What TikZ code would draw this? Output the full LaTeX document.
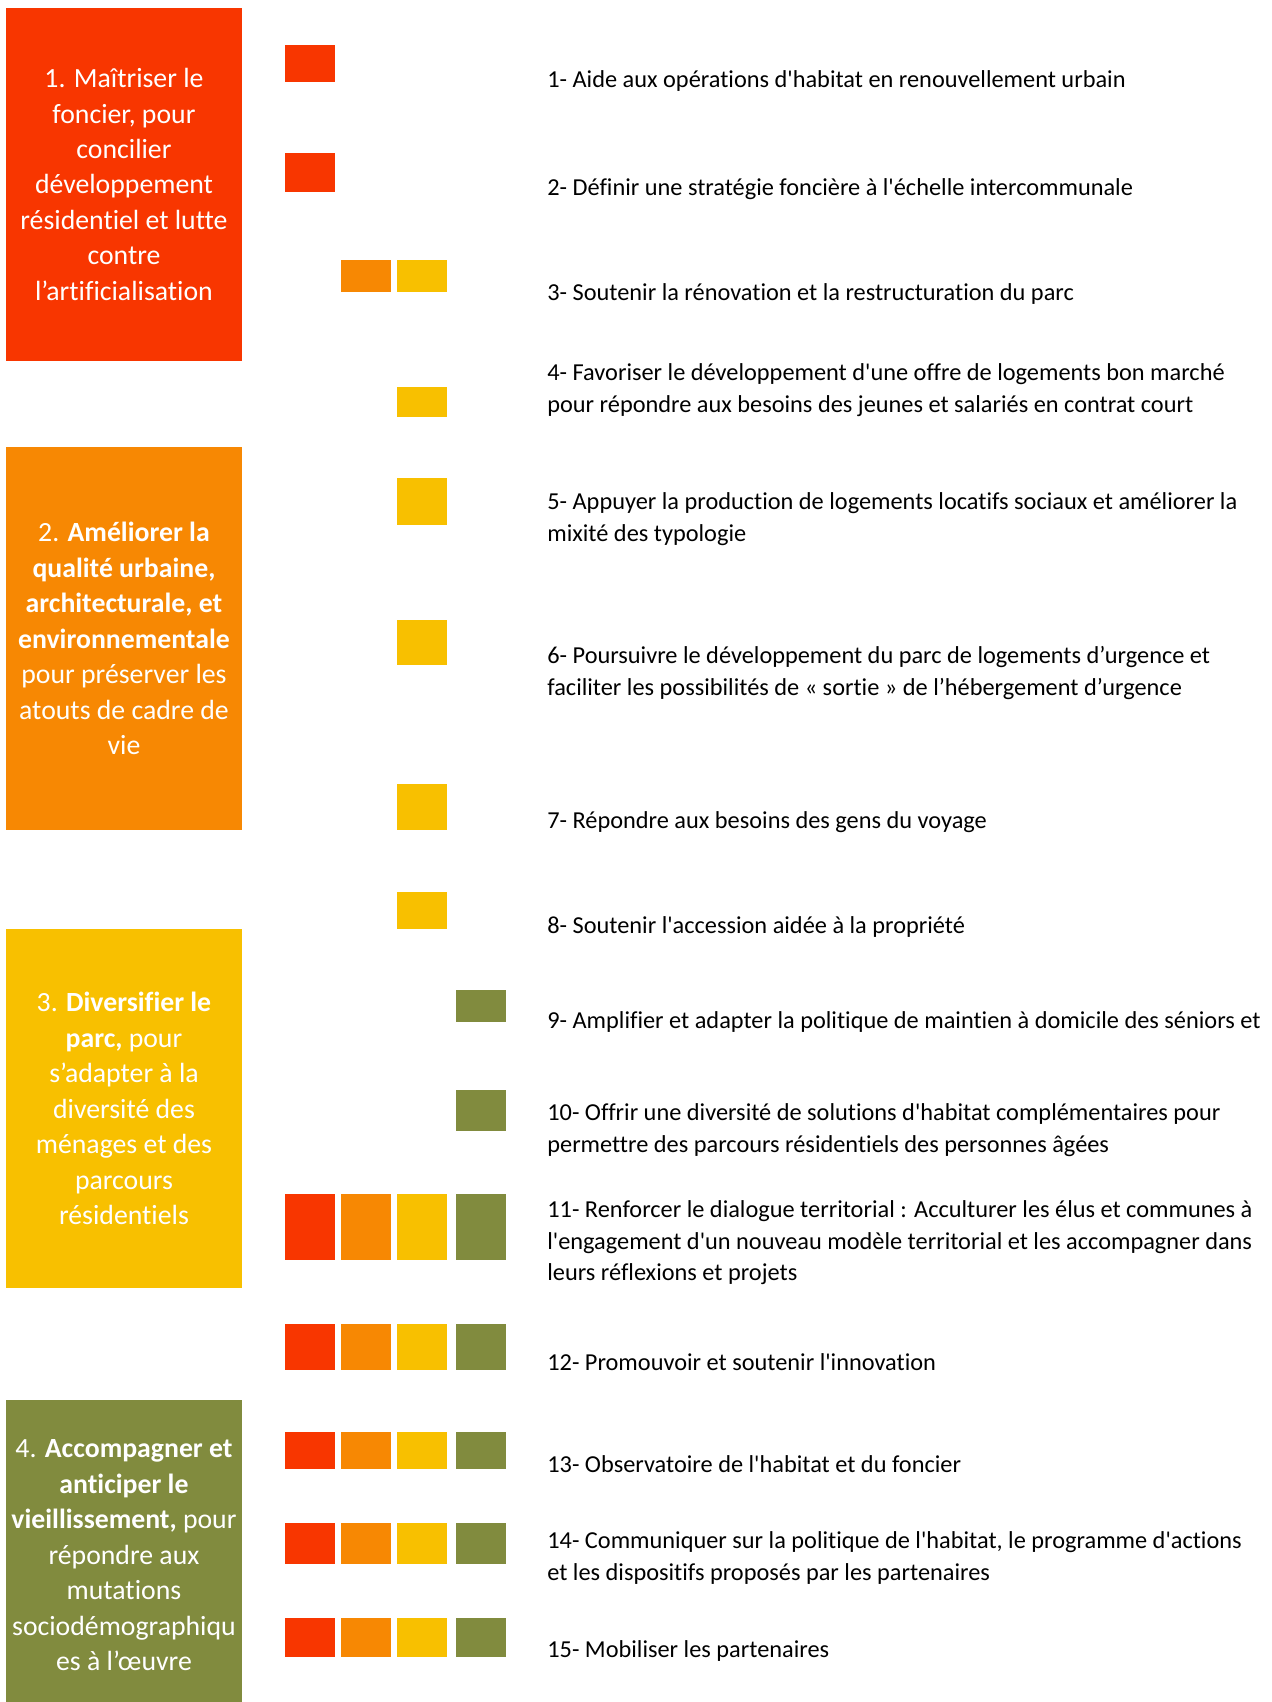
\documentclass[tikz,border=0pt]{standalone}
\usepackage{fontspec}
\setmainfont{Carlito}[Ligatures={TeXOff,CommonOff}]
\usepackage{tikz}
\usetikzlibrary{positioning}
\definecolor{axered}{RGB}{248,54,0}
\definecolor{axeorange}{RGB}{247,136,3}
\definecolor{axeyellow}{RGB}{248,192,0}
\definecolor{axegreen}{RGB}{129,139,62}
\tikzset{
  axebox/.style={fill=#1, anchor=north west, inner sep=0pt, outer sep=0pt, minimum width=4.72cm, align=center, text=white, font=\fontsize{15.8}{20.2}\selectfont},
  cell/.style={fill=#1, anchor=north west, inner sep=0pt, outer sep=0pt, minimum width=1cm},
  action/.style={anchor=west, inner sep=0pt, align=left, font=\fontsize{13.85}{17.9}\selectfont}
}

\begin{document}
\begin{tikzpicture}[x=0.02cm, y=-0.02cm]
  \useasboundingbox (0,0) rectangle (1271,1702);

  % the four axes
  \node[axebox=axered, minimum height=7.06cm] (a1) at (6,8) {1. Maîtriser le\\foncier, pour\\concilier\\développement\\résidentiel et lutte\\contre\\l’artificialisation};
  \node[axebox=axeorange, minimum height=7.66cm] (a2) at (6,447) {2. \textbf{Améliorer la}\\\textbf{qualité urbaine,}\\\textbf{architecturale, et}\\\textbf{environnementale}\\pour préserver les\\atouts de cadre de\\vie};
  \node[axebox=axeyellow, minimum height=7.18cm] (a3) at (6,929) {3. \textbf{Diversifier le}\\\textbf{parc,} pour\\s’adapter à la\\diversité des\\ménages et des\\parcours\\résidentiels};
  % runs on past the bottom edge of the page
  \node[axebox=axegreen, minimum height=6.22cm] (a4) at (6,1400) {4. \textbf{Accompagner et}\\\textbf{anticiper le}\\\textbf{vieillissement,} pour\\répondre aux\\mutations\\sociodémographiqu\\es à l’œuvre};

  % cells of actions 1 to 10
  \node[cell=axered, minimum height=0.74cm] (c1r) at (285,45) {};
  \node[cell=axered, minimum height=0.78cm] (c2r) at (285,153) {};
  \node[cell=axeorange, minimum height=0.64cm] (c3o) at (341,260) {};
  \node[cell=axeyellow, minimum height=0.64cm, right=0.12cm of c3o] (c3y) {};
  \node[cell=axeyellow, minimum height=0.60cm] (c4y) at (397,387) {};
  \node[cell=axeyellow, minimum height=0.94cm] (c5y) at (397,478) {};
  \node[cell=axeyellow, minimum height=0.90cm] (c6y) at (397,620) {};
  \node[cell=axeyellow, minimum height=0.92cm] (c7y) at (397,784) {};
  \node[cell=axeyellow, minimum height=0.74cm] (c8y) at (397,892) {};
  \node[cell=axegreen, minimum height=0.64cm] (c9g) at (456,990) {};
  \node[cell=axegreen, minimum height=0.82cm] (c10g) at (456,1090) {};

  % actions 11 to 15 touch all four axes
  \foreach \n/\top/\h in {11/1194/1.32, 12/1324/0.92, 13/1432/0.74, 14/1523/0.82, 15/1618/0.78} {
    \node[cell=axered, minimum height=\h cm] (c\n r) at (285,\top) {};
    \node[cell=axeorange, minimum height=\h cm, right=0.12cm of c\n r] (c\n o) {};
    \node[cell=axeyellow, minimum height=\h cm, right=0.12cm of c\n o] (c\n y) {};
    \node[cell=axegreen, minimum height=\h cm, right=0.18cm of c\n y] (c\n g) {};
  }

  % action labels
  \node[action] (t1) at (547,81) {1- Aide aux opérations d'habitat en renouvellement urbain};
  \node[action] (t2) at (547,189) {2- Définir une stratégie foncière à l'échelle intercommunale};
  \node[action] (t3) at (547,294) {3- Soutenir la rénovation et la restructuration du parc};
  \node[action] (t4) at (547,390) {4- Favoriser le développement d'une offre de logements bon marché\\pour répondre aux besoins des jeunes et salariés en contrat court};
  \node[action] (t5) at (547,519) {5- Appuyer la production de logements locatifs sociaux et améliorer la\\mixité des typologie};
  \node[action] (t6) at (547,673) {6- Poursuivre le développement du parc de logements d’urgence et\\faciliter les possibilités de « sortie » de l’hébergement d’urgence};
  \node[action] (t7) at (547,822) {7- Répondre aux besoins des gens du voyage};
  \node[action] (t8) at (547,927) {8- Soutenir l'accession aidée à la propriété};
  \node[action] (t9) at (547,1022) {9- Amplifier et adapter la politique de maintien à domicile des séniors et};
  \node[action] (t10) at (547,1130) {10- Offrir une diversité de solutions d'habitat complémentaires pour\\permettre des parcours résidentiels des personnes âgées};
  \node[action] (t11) at (547,1243) {11- Renforcer le dialogue territorial : Acculturer les élus et communes à\\l'engagement d'un nouveau modèle territorial et les accompagner dans\\leurs réflexions et projets};
  \node[action] (t12) at (547,1362) {12- Promouvoir et soutenir l'innovation};
  \node[action] (t13) at (547,1464) {13- Observatoire de l'habitat et du foncier};
  \node[action] (t14) at (547,1558) {14- Communiquer sur la politique de l'habitat, le programme d'actions\\et les dispositifs proposés par les partenaires};
  \node[action] (t15) at (547,1651) {15- Mobiliser les partenaires};
\end{tikzpicture}
\end{document}
